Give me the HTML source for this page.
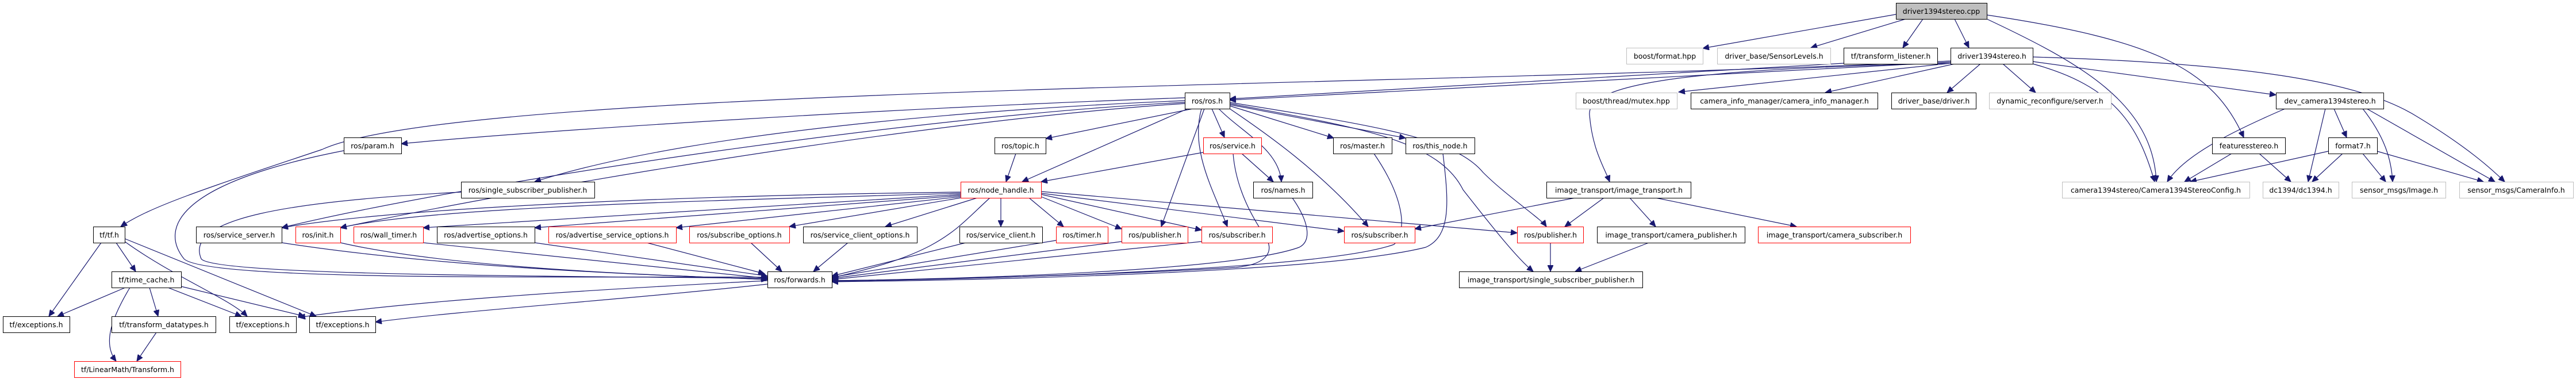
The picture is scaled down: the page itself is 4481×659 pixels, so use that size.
<!DOCTYPE html>
<html><head><meta charset="utf-8">
<style>
html,body{margin:0;padding:0;background:#fff;}
svg{display:block;}
text{font-family:"DejaVu Sans","Liberation Sans",sans-serif;font-size:12.5px;fill:#000;text-anchor:middle;}
.e path{fill:none;stroke:#191970;stroke-width:1.2;marker-end:url(#a);}
.n rect{fill:#fff;stroke:#000;stroke-width:1;}
.n rect.g{stroke:#bfbfbf;}
.n rect.r{stroke:#ff0000;}
.n rect.c{fill:#bfbfbf;}
</style></head><body>
<svg width="4481" height="659" viewBox="0 0 4481 659" xmlns="http://www.w3.org/2000/svg">
<defs><marker id="a" markerUnits="userSpaceOnUse" markerWidth="12" markerHeight="10" refX="11" refY="5" orient="auto"><path d="M0,0 L11,5 L0,10 z" fill="#191970" stroke="#191970"/></marker></defs>
<g class="e">
<path d="M3298,25 L2962,84"/>
<path d="M3315,33 L3150,83"/>
<path d="M3345,33 L3310,83"/>
<path d="M3400,33 L3425,83"/>
<path d="M3456,33 C3620,110 3745,180 3751,316"/>
<path d="M3456,26 C3750,70 3850,120 3903,239"/>
<path d="M3393,110 L2920,160"/>
<path d="M3400,111 L3175,161"/>
<path d="M3445,111 L3387,161"/>
<path d="M3484,111 L3541,161"/>
<path d="M3536,107 L3959,165"/>
<path d="M3536,111 C3680,150 3720,220 3748,316"/>
<path d="M3536,99 C3900,110 4100,140 4200,200 C4300,260 4340,300 4357,316"/>
<path d="M3393,108 L2139,174"/>
<path d="M3207,110 L2139,172"/>
<path d="M3393,110 C2900,120 2760,150 2765,200 C2770,260 2790,290 2800,316"/>
<path d="M3393,106 C2500,150 800,150 560,260 C350,330 260,360 210,394"/>
<path d="M3975,189 C3880,230 3800,270 3770,316"/>
<path d="M4045,189 L4015,316"/>
<path d="M4060,189 L4082,239"/>
<path d="M4110,189 C4150,240 4160,280 4162,316"/>
<path d="M4117,189 L4340,316"/>
<path d="M3882,267 L3800,316"/>
<path d="M3930,267 L3985,316"/>
<path d="M4050,263 L3810,316"/>
<path d="M4075,267 L4022,316"/>
<path d="M4110,267 L4150,316"/>
<path d="M4135,263 L4320,316"/>
<path d="M2061,170 C1500,190 900,230 698,250"/>
<path d="M2061,175 C1700,190 1200,230 930,316"/>
<path d="M2061,178 C1600,200 800,320 490,396"/>
<path d="M2061,180 C1600,210 900,330 592,396"/>
<path d="M2075,189 L1819,241"/>
<path d="M2066,189 L1778,316"/>
<path d="M2108,189 L2130,239"/>
<path d="M2095,189 L2020,394"/>
<path d="M2090,189 C2070,260 2110,330 2135,394"/>
<path d="M2120,189 C2160,230 2225,260 2229,316"/>
<path d="M2139,184 L2320,240"/>
<path d="M2139,182 L2445,240"/>
<path d="M2139,189 C2200,230 2300,300 2380,394"/>
<path d="M2139,178 C2400,220 2530,240 2580,300 C2620,340 2680,380 2690,394"/>
<path d="M2139,180 C2350,220 2500,240 2545,330 C2600,400 2640,450 2667,472"/>
<path d="M2093,265 L1811,316"/>
<path d="M2160,267 L2215,316"/>
<path d="M2145,267 C2150,330 2180,380 2200,410 C2220,440 2200,460 2150,465 C1900,480 1600,486 1447,488"/>
<path d="M1767,267 L1750,316"/>
<path d="M1671,334 C1200,340 700,360 490,396"/>
<path d="M1671,336 C1200,350 750,360 592,396"/>
<path d="M1671,338 L736,396"/>
<path d="M1671,340 L930,396"/>
<path d="M1671,342 L1176,396"/>
<path d="M1671,344 L1373,394"/>
<path d="M1700,344 L1540,394"/>
<path d="M1741,344 L1741,394"/>
<path d="M1790,344 L1850,394"/>
<path d="M1811,342 L1951,398"/>
<path d="M1811,338 L2090,400"/>
<path d="M1811,336 L2338,402"/>
<path d="M1811,333 L2639,405"/>
<path d="M1722,344 C1660,400 1640,440 1447,483"/>
<path d="M2740,344 L2461,398"/>
<path d="M2790,344 L2722,394"/>
<path d="M2835,344 L2880,394"/>
<path d="M2880,344 L3125,394"/>
<path d="M2697,422 L2697,472"/>
<path d="M2868,422 L2740,472"/>
<path d="M598,262 C300,320 280,400 320,450 C360,490 1000,480 1335,482"/>
<path d="M802,334 C500,350 320,380 350,450 C370,480 1000,480 1335,484"/>
<path d="M490,422 C800,470 1200,480 1335,486"/>
<path d="M592,422 C800,470 1200,480 1335,486"/>
<path d="M736,422 L1335,484"/>
<path d="M930,422 L1335,480"/>
<path d="M1125,422 L1330,476"/>
<path d="M1306,422 L1360,472"/>
<path d="M1475,422 L1415,472"/>
<path d="M1680,422 L1447,480"/>
<path d="M1837,418 L1447,482"/>
<path d="M1951,420 L1447,484"/>
<path d="M2090,420 L1447,486"/>
<path d="M2248,344 C2280,390 2280,420 2260,430 C2150,470 1700,485 1447,488"/>
<path d="M2390,267 C2440,340 2450,400 2425,425 C2300,470 1700,485 1447,489"/>
<path d="M2510,267 C2520,350 2525,410 2480,430 C2300,475 1700,487 1447,490"/>
<path d="M1335,488 C1000,505 700,525 520,552"/>
<path d="M1335,494 C1100,520 800,540 653,560"/>
<path d="M176,422 L85,550"/>
<path d="M202,422 L236,472"/>
<path d="M217,420 C300,480 400,520 430,550"/>
<path d="M217,415 L550,550"/>
<path d="M218,500 L100,550"/>
<path d="M226,500 C190,560 180,600 202,628"/>
<path d="M260,500 L275,550"/>
<path d="M292,500 L420,550"/>
<path d="M315,498 L530,550"/>
<path d="M272,578 L238,628"/>
</g>
<g class="n">
<rect class="c" x="3298.5" y="5.5" width="158" height="28"/><text x="3377" y="24">driver1394stereo.cpp</text>
<rect class="g" x="2829.5" y="83.5" width="133" height="28"/><text x="2896" y="102">boost/format.hpp</text>
<rect class="g" x="2987.5" y="83.5" width="197" height="28"/><text x="3086" y="102">driver_base/SensorLevels.h</text>
<rect x="3207.5" y="83.5" width="163" height="28"/><text x="3289" y="102">tf/transform_listener.h</text>
<rect x="3393.5" y="83.5" width="143" height="28"/><text x="3465" y="102">driver1394stereo.h</text>
<rect x="2061.5" y="161.5" width="78" height="28"/><text x="2100" y="180">ros/ros.h</text>
<rect class="g" x="2741.5" y="161.5" width="176" height="28"/><text x="2829" y="180">boost/thread/mutex.hpp</text>
<rect x="2941.5" y="161.5" width="325" height="28"/><text x="3104" y="180">camera_info_manager/camera_info_manager.h</text>
<rect x="3290.5" y="161.5" width="147" height="28"/><text x="3364" y="180">driver_base/driver.h</text>
<rect class="g" x="3460.5" y="161.5" width="212" height="28"/><text x="3566" y="180">dynamic_reconfigure/server.h</text>
<rect x="3959.5" y="161.5" width="187" height="28"/><text x="4053" y="180">dev_camera1394stereo.h</text>
<rect x="598.5" y="239.5" width="100" height="28"/><text x="648" y="258">ros/param.h</text>
<rect x="1730.5" y="239.5" width="89" height="28"/><text x="1775" y="258">ros/topic.h</text>
<rect class="r" x="2093.5" y="239.5" width="101" height="28"/><text x="2144" y="258">ros/service.h</text>
<rect x="2319.5" y="239.5" width="102" height="28"/><text x="2370" y="258">ros/master.h</text>
<rect x="2445.5" y="239.5" width="120" height="28"/><text x="2505" y="258">ros/this_node.h</text>
<rect x="3848.5" y="239.5" width="127" height="28"/><text x="3912" y="258">featuresstereo.h</text>
<rect x="4050.5" y="239.5" width="85" height="28"/><text x="4093" y="258">format7.h</text>
<rect x="802.5" y="316.5" width="232" height="28"/><text x="918" y="335">ros/single_subscriber_publisher.h</text>
<rect class="r" x="1671.5" y="316.5" width="140" height="28"/><text x="1741" y="335">ros/node_handle.h</text>
<rect x="2180.5" y="316.5" width="103" height="28"/><text x="2232" y="335">ros/names.h</text>
<rect x="2690.5" y="316.5" width="251" height="28"/><text x="2816" y="335">image_transport/image_transport.h</text>
<rect class="g" x="3587.5" y="316.5" width="326" height="28"/><text x="3750" y="335">camera1394stereo/Camera1394StereoConfig.h</text>
<rect class="g" x="3936.5" y="316.5" width="132" height="28"/><text x="4002" y="335">dc1394/dc1394.h</text>
<rect class="g" x="4091.5" y="316.5" width="163" height="28"/><text x="4173" y="335">sensor_msgs/Image.h</text>
<rect class="g" x="4278.5" y="316.5" width="198" height="28"/><text x="4377" y="335">sensor_msgs/CameraInfo.h</text>
<rect x="162.5" y="394.5" width="55" height="28"/><text x="190" y="413">tf/tf.h</text>
<rect x="341.5" y="394.5" width="149" height="28"/><text x="416" y="413">ros/service_server.h</text>
<rect class="r" x="514.5" y="394.5" width="78" height="28"/><text x="553" y="413">ros/init.h</text>
<rect class="r" x="615.5" y="394.5" width="121" height="28"/><text x="676" y="413">ros/wall_timer.h</text>
<rect x="760.5" y="394.5" width="170" height="28"/><text x="845" y="413">ros/advertise_options.h</text>
<rect class="r" x="954.5" y="394.5" width="222" height="28"/><text x="1065" y="413">ros/advertise_service_options.h</text>
<rect class="r" x="1199.5" y="394.5" width="174" height="28"/><text x="1286" y="413">ros/subscribe_options.h</text>
<rect x="1397.5" y="394.5" width="198" height="28"/><text x="1496" y="413">ros/service_client_options.h</text>
<rect x="1669.5" y="394.5" width="144" height="28"/><text x="1741" y="413">ros/service_client.h</text>
<rect class="r" x="1837.5" y="394.5" width="90" height="28"/><text x="1882" y="413">ros/timer.h</text>
<rect class="r" x="1951.5" y="394.5" width="115" height="28"/><text x="2009" y="413">ros/publisher.h</text>
<rect class="r" x="2090.5" y="394.5" width="123" height="28"/><text x="2152" y="413">ros/subscriber.h</text>
<rect class="r" x="2338.5" y="394.5" width="123" height="28"/><text x="2400" y="413">ros/subscriber.h</text>
<rect class="r" x="2639.5" y="394.5" width="115" height="28"/><text x="2697" y="413">ros/publisher.h</text>
<rect x="2778.5" y="394.5" width="257" height="28"/><text x="2907" y="413">image_transport/camera_publisher.h</text>
<rect class="r" x="3058.5" y="394.5" width="265" height="28"/><text x="3191" y="413">image_transport/camera_subscriber.h</text>
<rect x="194.5" y="472.5" width="121" height="28"/><text x="255" y="491">tf/time_cache.h</text>
<rect x="1335.5" y="472.5" width="112" height="28"/><text x="1391" y="491">ros/forwards.h</text>
<rect x="2538.5" y="472.5" width="319" height="28"/><text x="2698" y="491">image_transport/single_subscriber_publisher.h</text>
<rect x="5.5" y="550.5" width="116" height="28"/><text x="63" y="569">tf/exceptions.h</text>
<rect x="194.5" y="550.5" width="181" height="28"/><text x="285" y="569">tf/transform_datatypes.h</text>
<rect x="399.5" y="550.5" width="116" height="28"/><text x="457" y="569">tf/exceptions.h</text>
<rect x="538.5" y="550.5" width="115" height="28"/><text x="596" y="569">tf/exceptions.h</text>
<rect class="r" x="129.5" y="628.5" width="185" height="28"/><text x="222" y="647">tf/LinearMath/Transform.h</text>
</g>
</svg>
</body></html>
